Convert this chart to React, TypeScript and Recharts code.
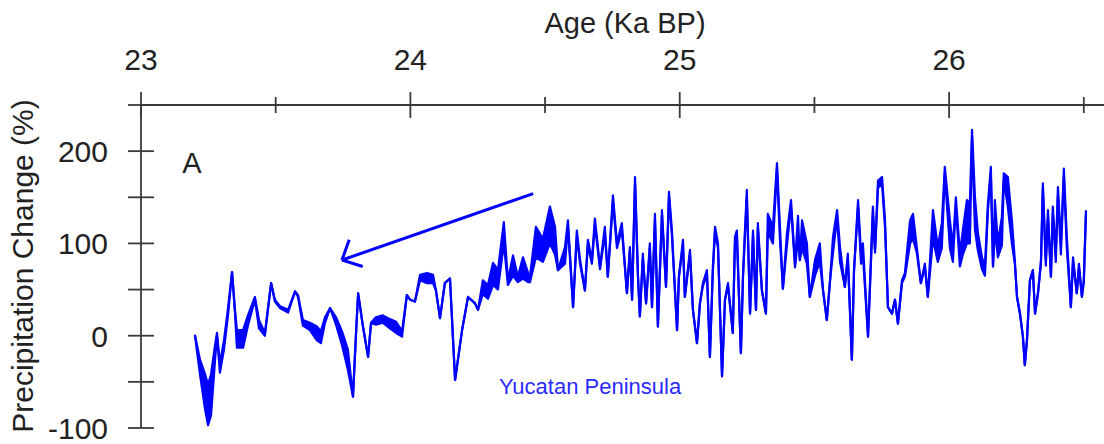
import { ComposedChart, Area, XAxis, YAxis, ReferenceLine, ReferenceDot } from 'recharts';

// age in ka BP, precipitation change in %; high/low give the width of the trace band
const age = [
  23.2, 23.219, 23.238, 23.249, 23.26, 23.275, 23.282, 23.293, 23.308, 23.323, 23.338, 23.349,
  23.356, 23.379, 23.397, 23.423, 23.438, 23.46, 23.483, 23.497, 23.516, 23.546, 23.572, 23.583,
  23.601, 23.627, 23.653, 23.668, 23.683, 23.702, 23.724, 23.746, 23.768, 23.787, 23.798, 23.806,
  23.824, 23.843, 23.854, 23.872, 23.898, 23.924, 23.947, 23.969, 23.987, 23.999, 24.017, 24.036,
  24.062, 24.084, 24.095, 24.11, 24.128, 24.147, 24.166, 24.192, 24.214, 24.24, 24.251, 24.269,
  24.288, 24.307, 24.325, 24.347, 24.362, 24.381, 24.399, 24.418, 24.437,
  24.444, 24.466, 24.492, 24.518, 24.537, 24.548, 24.574, 24.585, 24.604, 24.618, 24.63, 24.648,
  24.659, 24.674, 24.685, 24.704, 24.722, 24.733, 24.752, 24.767, 24.785, 24.804, 24.815, 24.823,
  24.834, 24.845, 24.852, 24.863, 24.875, 24.889, 24.897, 24.908, 24.919, 24.934,
  24.949, 24.96, 24.971, 24.99, 24.997, 25.012, 25.019, 25.038, 25.049, 25.064, 25.075, 25.086,
  25.101, 25.112, 25.123, 25.131, 25.142, 25.157, 25.168, 25.179, 25.197, 25.205, 25.212, 25.227,
  25.235, 25.249, 25.261, 25.272, 25.283, 25.29, 25.305, 25.32, 25.327, 25.346, 25.361, 25.372,
  25.383, 25.398, 25.413, 25.428,
  25.439, 25.446, 25.454, 25.472, 25.483, 25.502, 25.52, 25.532, 25.546, 25.558, 25.569, 25.584,
  25.595, 25.613, 25.624, 25.639, 25.647, 25.662, 25.673, 25.68, 25.699, 25.717, 25.725, 25.736,
  25.751, 25.762, 25.773, 25.788, 25.799, 25.81, 25.825, 25.836, 25.855, 25.866, 25.88, 25.895,
  25.91, 25.921, 25.94, 25.958, 25.973,
  25.984, 26.003, 26.014, 26.025, 26.04, 26.051, 26.066, 26.077, 26.085, 26.096, 26.107, 26.122,
  26.133, 26.144, 26.155, 26.163, 26.17, 26.181, 26.196, 26.203, 26.218, 26.233, 26.244, 26.252,
  26.263, 26.274, 26.281, 26.289, 26.3, 26.311, 26.319, 26.33, 26.341, 26.348, 26.359, 26.367,
  26.378, 26.385, 26.396, 26.404, 26.415, 26.426, 26.437, 26.452, 26.46, 26.474, 26.482, 26.493,
  26.5, 26.508,
];

const precipHigh = [
  1, -26, -42, -53, -42, -10, 3, -30, -5, 30, 69, 28,
  6, 6, 22, 42, 17, 3, 57, 39, 32, 28, 48, 44,
  17, 14, 10, 5, 20, 30, 20, 5, -15, -66, 1, 46,
  10, -23, 14, 20, 22, 18, 15, 5, 44, 39, 37, 66,
  68, 66, 49, 19, 57, 62, -48, 6, 42, 35, 28, 60,
  55, 79, 71, 123, 60, 87, 64, 85, 68,
  64, 118, 105, 140, 118, 71, 96, 125, 31, 114, 82, 49,
  104, 82, 127, 75, 118, 64, 152, 100, 122, 46, 96, 39,
  172, 64, 21, 89, 35, 100, 31, 132, 10, 136,
  53, 156, 114, 6, 64, 104, 42, 93, 28, -8, 35, 57,
  71, -23, 75, 118, 100, -44, 39, 57, 3, 107, 114, -19,
  68, 158, 24, 114, 28, 122, 49, 24, 132, 118, 187, 118,
  51, 111, 147, 78,
  130, 82, 125, 100, 42, 82, 100, 49, 17, 60, 107, 136,
  96, 53, 89, -26, 71, 147, 89, 100, -1, 140, 93, 168,
  172, 125, 31, 24, 39, 13, 60, 68, 125, 132, 96, 57,
  78, 42, 136, 96, 122,
  183, 125, 96, 150, 89, 114, 147, 143, 223, 150, 111, 85,
  75, 143, 183, 75, 147, 100, 129, 176, 172, 125, 82, 42,
  24, -1, -32, -5, 60, 71, 24, 46, 82, 165, 82, 136,
  64, 140, 89, 161, 100, 181, 107, 31, 85, 46, 78, 42,
  60, 136,
];

const precipLow = [
  1, -42, -80, -97, -86, -26, 0, -40, -15, 22, 69, 24,
  -13, -13, 11, 39, 8, 0, 57, 37, 30, 25, 48, 42,
  11, 6, -5, -8, 14, 30, 12, -10, -37, -66, 1, 46,
  10, -23, 14, 12, 14, 8, 3, -1, 44, 39, 37, 60,
  57, 57, 49, 19, 57, 62, -48, 6, 42, 35, 28, 45,
  40, 55, 50, 100, 55, 65, 58, 62, 58,
  58, 85, 80, 100, 88, 71, 78, 118, 31, 108, 78, 49,
  98, 78, 120, 72, 110, 64, 145, 95, 115, 46, 92, 39,
  165, 64, 21, 84, 35, 95, 31, 125, 10, 130,
  53, 150, 108, 6, 64, 98, 42, 88, 28, -8, 35, 54,
  66, -23, 70, 112, 95, -44, 39, 54, 3, 100, 108, -19,
  64, 150, 24, 108, 28, 116, 49, 24, 112, 100, 180, 104,
  51, 98, 140, 74,
  105, 82, 95, 78, 42, 65, 80, 49, 17, 60, 90, 128,
  80, 53, 84, -26, 71, 140, 78, 88, -1, 132, 90, 160,
  164, 118, 31, 24, 39, 13, 57, 64, 100, 105, 90, 57,
  74, 42, 105, 80, 95,
  175, 95, 80, 140, 75, 88, 100, 100, 215, 115, 92, 72,
  65, 135, 175, 75, 115, 85, 98, 168, 140, 100, 78, 42,
  24, -1, -32, -5, 60, 71, 24, 46, 78, 158, 76, 128,
  64, 132, 80, 152, 88, 172, 95, 31, 80, 46, 74, 42,
  58, 132,
];

const ageTicks = [23, 23.5, 24, 24.5, 25, 25.5, 26, 26.5];
const precipTicks = [-100, -50, 0, 50, 100, 150, 200, 250];

// arrow: shaft start, tip, two barb ends (age, %)
const arrowStart = { x: 24.456, y: 154 };
const arrowTip = { x: 23.746, y: 82 };
const arrowBarbs = [
  { x: 23.773, y: 104 },
  { x: 23.823, y: 75 },
];

const AXIS = '#3a3a3a';
const TEXT = '#222';
const BLUE = '#0000ff';
const FONT = '"Liberation Sans", Arial, Helvetica, sans-serif';

const data = age.map((a, i) => ({ age: a, band: [precipLow[i], precipHigh[i]] }));

const XTick = ({ x, y, payload }: any) => {
  const major = Number.isInteger(payload.value);
  const len = major ? 13 : 8;
  return (
    <g>
      <line x1={x} x2={x} y1={y - len} y2={y + len} stroke={AXIS} strokeWidth={1.8} />
      {major && (
        <text x={x} y={y - 35} textAnchor="middle" fontSize={30} fill={TEXT} fontFamily={FONT}>
          {payload.value}
        </text>
      )}
    </g>
  );
};

const YTick = ({ x, y, payload }: any) => {
  const major = payload.value % 100 === 0;
  return (
    <g>
      <line x1={x - 13} x2={x + 13} y1={y} y2={y} stroke={AXIS} strokeWidth={1.8} />
      {major && (
        <text x={x - 33} y={y} dy="0.36em" textAnchor="end" fontSize={30} fill={TEXT} fontFamily={FONT}>
          {payload.value}
        </text>
      )}
    </g>
  );
};

const XTitle = () => (
  <text x={625} y={33} textAnchor="middle" fontSize={29} fill={TEXT} fontFamily={FONT}>
    Age (Ka BP)
  </text>
);

const YTitle = () => (
  <text transform="translate(33,266) rotate(-90)" textAnchor="middle" fontSize={30} fill={TEXT} fontFamily={FONT}>
    Precipitation Change (%)
  </text>
);

export default function App() {
  return (
    <div style={{ position: 'absolute', left: 0, top: 0, width: 1104, height: 444, background: '#fff' }}>
      <ComposedChart width={1104} height={444} data={data} margin={{ top: 0, right: 0, bottom: 16, left: 0 }}>
        <XAxis
          type="number"
          dataKey="age"
          orientation="top"
          domain={[23, 26.575]}
          ticks={ageTicks}
          interval={0}
          height={105}
          tickSize={0}
          tickMargin={0}
          tickLine={false}
          axisLine={{ stroke: AXIS, strokeWidth: 1.8 }}
          tick={XTick}
          label={<XTitle />}
          allowDataOverflow
        />
        <YAxis
          type="number"
          domain={[-100, 250]}
          ticks={precipTicks}
          interval={0}
          width={141}
          tickSize={0}
          tickMargin={0}
          tickLine={false}
          axisLine={{ stroke: AXIS, strokeWidth: 1.8 }}
          tick={YTick}
          label={<YTitle />}
          allowDataOverflow
        />
        <Area
          type="linear"
          dataKey="band"
          stroke={BLUE}
          strokeWidth={2.2}
          strokeLinejoin="round"
          fill={BLUE}
          fillOpacity={1}
          dot={false}
          activeDot={false}
          isAnimationActive={false}
        />
        <ReferenceLine segment={[arrowStart, arrowTip]} stroke={BLUE} strokeWidth={3} ifOverflow="visible" />
        {arrowBarbs.map((b, i) => (
          <ReferenceLine key={i} segment={[arrowTip, b]} stroke={BLUE} strokeWidth={3} ifOverflow="visible" />
        ))}
        <ReferenceDot
          x={23.189}
          y={188}
          r={0}
          ifOverflow="visible"
          shape={(p: any) => (
            <text x={p.cx} y={p.cy} dy="0.36em" textAnchor="middle" fontSize={29} fill={TEXT} fontFamily={FONT}>
              A
            </text>
          )}
        />
        <ReferenceDot
          x={24.667}
          y={-55}
          r={0}
          ifOverflow="visible"
          shape={(p: any) => (
            <text x={p.cx} y={p.cy} dy="0.36em" textAnchor="middle" fontSize={22} fill="#2a2aff" fontFamily={FONT}>
              Yucatan Peninsula
            </text>
          )}
        />
      </ComposedChart>
    </div>
  );
}
